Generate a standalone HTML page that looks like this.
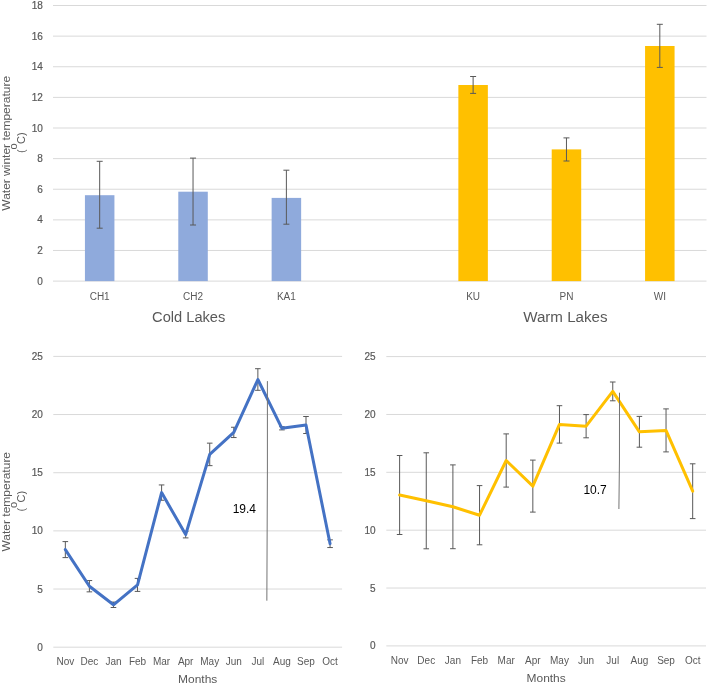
<!DOCTYPE html>
<html><head><meta charset="utf-8"><style>
html,body{margin:0;padding:0;background:#fff;width:708px;height:685px;overflow:hidden}
svg{display:block;will-change:transform}
text{font-family:"Liberation Sans", sans-serif;}
.tk{font-size:10px;fill:#595959}
.num{stroke:#595959;stroke-width:0.2px}
.grp{font-size:15.4px;fill:#595959}
.ttl{font-size:11px;fill:#595959}
.ax{font-size:11px;fill:#595959}
.val{font-size:12px;fill:#000}
</style></head><body>
<svg width="708" height="685" viewBox="0 0 708 685">
<line x1="53.0" y1="281.10" x2="706.5" y2="281.10" stroke="#d9d9d9" stroke-width="1"/>
<text x="42.8" y="284.60" text-anchor="end" class="tk num">0</text>
<line x1="53.0" y1="250.48" x2="706.5" y2="250.48" stroke="#d9d9d9" stroke-width="1"/>
<text x="42.8" y="253.98" text-anchor="end" class="tk num">2</text>
<line x1="53.0" y1="219.86" x2="706.5" y2="219.86" stroke="#d9d9d9" stroke-width="1"/>
<text x="42.8" y="223.36" text-anchor="end" class="tk num">4</text>
<line x1="53.0" y1="189.24" x2="706.5" y2="189.24" stroke="#d9d9d9" stroke-width="1"/>
<text x="42.8" y="192.74" text-anchor="end" class="tk num">6</text>
<line x1="53.0" y1="158.62" x2="706.5" y2="158.62" stroke="#d9d9d9" stroke-width="1"/>
<text x="42.8" y="162.12" text-anchor="end" class="tk num">8</text>
<line x1="53.0" y1="128.00" x2="706.5" y2="128.00" stroke="#d9d9d9" stroke-width="1"/>
<text x="42.8" y="131.50" text-anchor="end" class="tk num">10</text>
<line x1="53.0" y1="97.38" x2="706.5" y2="97.38" stroke="#d9d9d9" stroke-width="1"/>
<text x="42.8" y="100.88" text-anchor="end" class="tk num">12</text>
<line x1="53.0" y1="66.76" x2="706.5" y2="66.76" stroke="#d9d9d9" stroke-width="1"/>
<text x="42.8" y="70.26" text-anchor="end" class="tk num">14</text>
<line x1="53.0" y1="36.14" x2="706.5" y2="36.14" stroke="#d9d9d9" stroke-width="1"/>
<text x="42.8" y="39.64" text-anchor="end" class="tk num">16</text>
<line x1="53.0" y1="5.52" x2="706.5" y2="5.52" stroke="#d9d9d9" stroke-width="1"/>
<text x="42.8" y="9.02" text-anchor="end" class="tk num">18</text>
<rect x="84.93" y="195.20" width="29.5" height="85.90" fill="#8faadc"/>
<path d="M99.68 161.30V228.20M96.68 161.30H102.68M96.68 228.20H102.68" stroke="#595959" stroke-width="1" fill="none"/>
<text x="99.68" y="299.6" text-anchor="middle" class="tk">CH1</text>
<rect x="178.29" y="191.70" width="29.5" height="89.40" fill="#8faadc"/>
<path d="M193.04 158.10V225.00M190.04 158.10H196.04M190.04 225.00H196.04" stroke="#595959" stroke-width="1" fill="none"/>
<text x="193.04" y="299.6" text-anchor="middle" class="tk">CH2</text>
<rect x="271.64" y="197.90" width="29.5" height="83.20" fill="#8faadc"/>
<path d="M286.39 170.20V224.20M283.39 170.20H289.39M283.39 224.20H289.39" stroke="#595959" stroke-width="1" fill="none"/>
<text x="286.39" y="299.6" text-anchor="middle" class="tk">KA1</text>
<rect x="458.36" y="85.00" width="29.5" height="196.10" fill="#ffc000"/>
<path d="M473.11 76.50V93.40M470.11 76.50H476.11M470.11 93.40H476.11" stroke="#595959" stroke-width="1" fill="none"/>
<text x="473.11" y="299.6" text-anchor="middle" class="tk">KU</text>
<rect x="551.71" y="149.40" width="29.5" height="131.70" fill="#ffc000"/>
<path d="M566.46 137.90V161.00M563.46 137.90H569.46M563.46 161.00H569.46" stroke="#595959" stroke-width="1" fill="none"/>
<text x="566.46" y="299.6" text-anchor="middle" class="tk">PN</text>
<rect x="645.07" y="46.00" width="29.5" height="235.10" fill="#ffc000"/>
<path d="M659.82 24.30V67.40M656.82 24.30H662.82M656.82 67.40H662.82" stroke="#595959" stroke-width="1" fill="none"/>
<text x="659.82" y="299.6" text-anchor="middle" class="tk">WI</text>
<text x="188.7" y="322" text-anchor="middle" class="grp" textLength="73.3" lengthAdjust="spacingAndGlyphs">Cold Lakes</text>
<text x="565.4" y="322" text-anchor="middle" class="grp" textLength="84.4" lengthAdjust="spacingAndGlyphs">Warm Lakes</text>
<text transform="translate(9.8,143.35) rotate(-90)" text-anchor="middle" class="ttl" textLength="134.8" lengthAdjust="spacingAndGlyphs">Water winter temperature</text>
<text transform="rotate(-90)" x="-153.10" y="24.5" class="ttl">(</text>
<text transform="rotate(-90)" x="-149.60" y="17.1" class="ttl" font-size="10">o</text>
<text transform="rotate(-90)" x="-144.00" y="24.5" class="ttl">C)</text>
<line x1="53.3" y1="647.20" x2="342.1" y2="647.20" stroke="#d9d9d9" stroke-width="1"/>
<text x="42.8" y="650.70" text-anchor="end" class="tk num">0</text>
<line x1="53.3" y1="589.04" x2="342.1" y2="589.04" stroke="#d9d9d9" stroke-width="1"/>
<text x="42.8" y="592.54" text-anchor="end" class="tk num">5</text>
<line x1="53.3" y1="530.88" x2="342.1" y2="530.88" stroke="#d9d9d9" stroke-width="1"/>
<text x="42.8" y="534.38" text-anchor="end" class="tk num">10</text>
<line x1="53.3" y1="472.72" x2="342.1" y2="472.72" stroke="#d9d9d9" stroke-width="1"/>
<text x="42.8" y="476.22" text-anchor="end" class="tk num">15</text>
<line x1="53.3" y1="414.56" x2="342.1" y2="414.56" stroke="#d9d9d9" stroke-width="1"/>
<text x="42.8" y="418.06" text-anchor="end" class="tk num">20</text>
<line x1="53.3" y1="356.40" x2="342.1" y2="356.40" stroke="#d9d9d9" stroke-width="1"/>
<text x="42.8" y="359.90" text-anchor="end" class="tk num">25</text>
<text x="65.33" y="664.8" text-anchor="middle" class="tk">Nov</text>
<text x="89.40" y="664.8" text-anchor="middle" class="tk">Dec</text>
<text x="113.47" y="664.8" text-anchor="middle" class="tk">Jan</text>
<text x="137.53" y="664.8" text-anchor="middle" class="tk">Feb</text>
<text x="161.60" y="664.8" text-anchor="middle" class="tk">Mar</text>
<text x="185.67" y="664.8" text-anchor="middle" class="tk">Apr</text>
<text x="209.73" y="664.8" text-anchor="middle" class="tk">May</text>
<text x="233.80" y="664.8" text-anchor="middle" class="tk">Jun</text>
<text x="257.87" y="664.8" text-anchor="middle" class="tk">Jul</text>
<text x="281.93" y="664.8" text-anchor="middle" class="tk">Aug</text>
<text x="306.00" y="664.8" text-anchor="middle" class="tk">Sep</text>
<text x="330.07" y="664.8" text-anchor="middle" class="tk">Oct</text>
<text x="197.70" y="682.8" text-anchor="middle" class="ax" textLength="39.2" lengthAdjust="spacingAndGlyphs">Months</text>
<path d="M65.33 541.60V557.60M62.53 541.60H68.13M62.53 557.60H68.13" stroke="#595959" stroke-width="1" fill="none"/>
<path d="M89.40 580.55V591.85M86.60 580.55H92.20M86.60 591.85H92.20" stroke="#595959" stroke-width="1" fill="none"/>
<path d="M113.47 602.10V607.50M110.67 602.10H116.27M110.67 607.50H116.27" stroke="#595959" stroke-width="1" fill="none"/>
<path d="M137.53 578.40V591.40M134.73 578.40H140.33M134.73 591.40H140.33" stroke="#595959" stroke-width="1" fill="none"/>
<path d="M161.60 484.95V500.25M158.80 484.95H164.40M158.80 500.25H164.40" stroke="#595959" stroke-width="1" fill="none"/>
<path d="M185.67 531.30V537.90M182.87 531.30H188.47M182.87 537.90H188.47" stroke="#595959" stroke-width="1" fill="none"/>
<path d="M209.73 443.15V465.65M206.93 443.15H212.53M206.93 465.65H212.53" stroke="#595959" stroke-width="1" fill="none"/>
<path d="M233.80 427.25V437.55M231.00 427.25H236.60M231.00 437.55H236.60" stroke="#595959" stroke-width="1" fill="none"/>
<path d="M257.87 368.70V390.30M255.07 368.70H260.67M255.07 390.30H260.67" stroke="#595959" stroke-width="1" fill="none"/>
<path d="M281.93 426.70V429.90M279.13 426.70H284.73M279.13 429.90H284.73" stroke="#595959" stroke-width="1" fill="none"/>
<path d="M306.00 416.50V433.50M303.20 416.50H308.80M303.20 433.50H308.80" stroke="#595959" stroke-width="1" fill="none"/>
<path d="M330.07 539.85V547.55M327.27 539.85H332.87M327.27 547.55H332.87" stroke="#595959" stroke-width="1" fill="none"/>
<path d="M65.33 549.60 L89.40 586.20 L113.47 604.80 L137.53 584.90 L161.60 492.60 L185.67 534.60 L209.73 454.40 L233.80 432.40 L257.87 379.50 L281.93 428.30 L306.00 425.00 L330.07 543.70" stroke="#4472c4" stroke-width="3" fill="none" stroke-linejoin="round" stroke-linecap="round"/>
<polyline points="267.4,381.1 267.4,470 266.85,600.7" stroke="#737373" stroke-width="1" fill="none"/>
<text x="232.7" y="512.9" class="val">19.4</text>
<line x1="386.3" y1="645.90" x2="706.0" y2="645.90" stroke="#d9d9d9" stroke-width="1"/>
<text x="375.6" y="649.40" text-anchor="end" class="tk num">0</text>
<line x1="386.3" y1="588.04" x2="706.0" y2="588.04" stroke="#d9d9d9" stroke-width="1"/>
<text x="375.6" y="591.54" text-anchor="end" class="tk num">5</text>
<line x1="386.3" y1="530.18" x2="706.0" y2="530.18" stroke="#d9d9d9" stroke-width="1"/>
<text x="375.6" y="533.68" text-anchor="end" class="tk num">10</text>
<line x1="386.3" y1="472.32" x2="706.0" y2="472.32" stroke="#d9d9d9" stroke-width="1"/>
<text x="375.6" y="475.82" text-anchor="end" class="tk num">15</text>
<line x1="386.3" y1="414.46" x2="706.0" y2="414.46" stroke="#d9d9d9" stroke-width="1"/>
<text x="375.6" y="417.96" text-anchor="end" class="tk num">20</text>
<line x1="386.3" y1="356.60" x2="706.0" y2="356.60" stroke="#d9d9d9" stroke-width="1"/>
<text x="375.6" y="360.10" text-anchor="end" class="tk num">25</text>
<text x="399.62" y="664.1" text-anchor="middle" class="tk">Nov</text>
<text x="426.26" y="664.1" text-anchor="middle" class="tk">Dec</text>
<text x="452.90" y="664.1" text-anchor="middle" class="tk">Jan</text>
<text x="479.55" y="664.1" text-anchor="middle" class="tk">Feb</text>
<text x="506.19" y="664.1" text-anchor="middle" class="tk">Mar</text>
<text x="532.83" y="664.1" text-anchor="middle" class="tk">Apr</text>
<text x="559.47" y="664.1" text-anchor="middle" class="tk">May</text>
<text x="586.11" y="664.1" text-anchor="middle" class="tk">Jun</text>
<text x="612.75" y="664.1" text-anchor="middle" class="tk">Jul</text>
<text x="639.40" y="664.1" text-anchor="middle" class="tk">Aug</text>
<text x="666.04" y="664.1" text-anchor="middle" class="tk">Sep</text>
<text x="692.68" y="664.1" text-anchor="middle" class="tk">Oct</text>
<text x="546.15" y="681.8" text-anchor="middle" class="ax" textLength="39.2" lengthAdjust="spacingAndGlyphs">Months</text>
<path d="M399.62 455.50V534.50M396.82 455.50H402.42M396.82 534.50H402.42" stroke="#595959" stroke-width="1" fill="none"/>
<path d="M426.26 452.80V548.80M423.46 452.80H429.06M423.46 548.80H429.06" stroke="#595959" stroke-width="1" fill="none"/>
<path d="M452.90 464.90V548.70M450.10 464.90H455.70M450.10 548.70H455.70" stroke="#595959" stroke-width="1" fill="none"/>
<path d="M479.55 485.60V544.80M476.75 485.60H482.35M476.75 544.80H482.35" stroke="#595959" stroke-width="1" fill="none"/>
<path d="M506.19 433.90V487.10M503.39 433.90H508.99M503.39 487.10H508.99" stroke="#595959" stroke-width="1" fill="none"/>
<path d="M532.83 460.10V512.10M530.03 460.10H535.63M530.03 512.10H535.63" stroke="#595959" stroke-width="1" fill="none"/>
<path d="M559.47 405.70V443.10M556.67 405.70H562.27M556.67 443.10H562.27" stroke="#595959" stroke-width="1" fill="none"/>
<path d="M586.11 414.60V437.80M583.31 414.60H588.91M583.31 437.80H588.91" stroke="#595959" stroke-width="1" fill="none"/>
<path d="M612.75 382.00V400.80M609.95 382.00H615.55M609.95 400.80H615.55" stroke="#595959" stroke-width="1" fill="none"/>
<path d="M639.40 416.40V447.20M636.60 416.40H642.20M636.60 447.20H642.20" stroke="#595959" stroke-width="1" fill="none"/>
<path d="M666.04 408.90V451.90M663.24 408.90H668.84M663.24 451.90H668.84" stroke="#595959" stroke-width="1" fill="none"/>
<path d="M692.68 463.80V518.60M689.88 463.80H695.48M689.88 518.60H695.48" stroke="#595959" stroke-width="1" fill="none"/>
<path d="M399.62 495.00 L426.26 500.80 L452.90 506.80 L479.55 515.20 L506.19 460.50 L532.83 486.10 L559.47 424.40 L586.11 426.20 L612.75 391.40 L639.40 431.80 L666.04 430.40 L692.68 491.20" stroke="#ffc000" stroke-width="3" fill="none" stroke-linejoin="round" stroke-linecap="round"/>
<polyline points="619.5,392.7 619.45,460 618.9,509" stroke="#737373" stroke-width="1" fill="none"/>
<text x="583.4" y="494.0" class="val">10.7</text>
<text transform="translate(9.8,501.75) rotate(-90)" text-anchor="middle" class="ttl" textLength="99.6" lengthAdjust="spacingAndGlyphs">Water temperature</text>
<text transform="rotate(-90)" x="-511.55" y="24.5" class="ttl">(</text>
<text transform="rotate(-90)" x="-508.05" y="17.1" class="ttl" font-size="10">o</text>
<text transform="rotate(-90)" x="-502.45" y="24.5" class="ttl">C)</text>
</svg>
</body></html>
